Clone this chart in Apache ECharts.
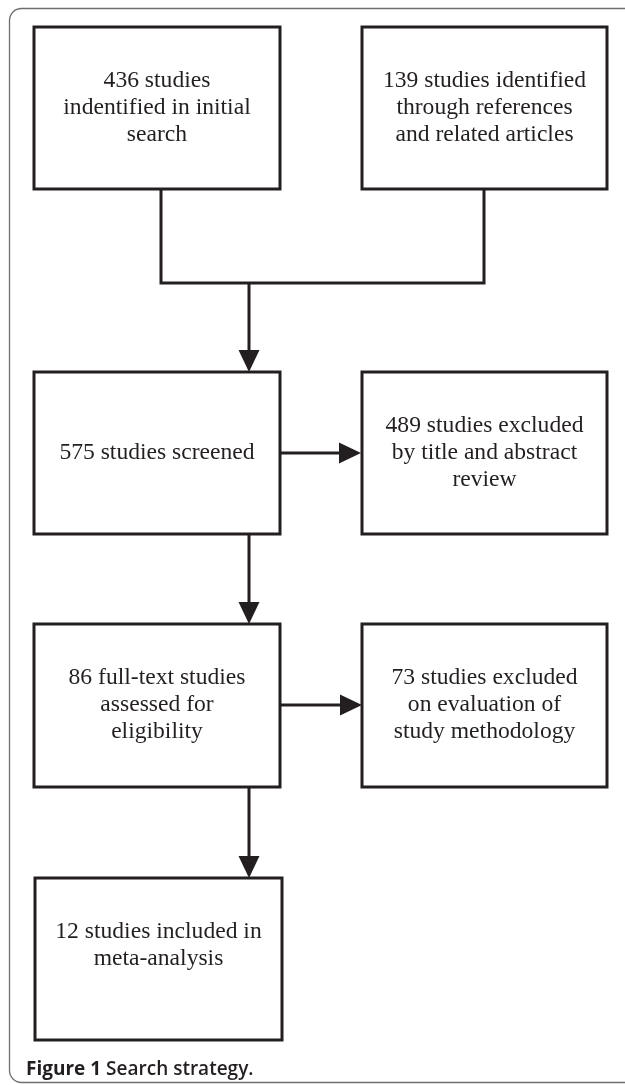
<!DOCTYPE html>
<html><head><meta charset="utf-8">
<script src="https://cdn.jsdelivr.net/npm/echarts@6/dist/echarts.min.js"></script>
<style>html,body{margin:0;padding:0;background:#fff}#c{width:625px;height:1085px}</style>
</head><body><div id="c"></div>
<script>
// ---- content ----
const labels = [
  '436 studies\nindentified in initial\nsearch',
  '139 studies identified\nthrough references\nand related articles',
  '575 studies screened',
  '489 studies excluded\nby title and abstract\nreview',
  '86 full-text studies\nassessed for\neligibility',
  '73 studies excluded\non evaluation of\nstudy methodology',
  '12 studies included in\nmeta-analysis'
];
const captionBold = 'Figure 1';
const captionText = 'Search strategy.';

// ---- layout (page units on hidden axes) ----
// [x0, y0, x1, y1, textCenterY]
const nodeLayout = [
  [34, 27, 280, 189, 107.5],
  [362, 27, 607, 189, 107.5],
  [34, 372, 280, 534, 453],
  [362, 372, 607, 534, 453],
  [34, 624, 280, 787, 705],
  [362, 624, 607, 787, 705],
  [35, 878, 282, 1040, 945]
];
// [points, hasArrow]
const edgeLayout = [
  [[[161, 189], [161, 283], [484, 283], [484, 189]], false],
  [[[249, 283], [249, 372]], true],
  [[[280, 453], [361, 453]], true],
  [[[249, 534], [249, 624]], true],
  [[[280, 705], [362, 705]], true],
  [[[249, 787], [249, 878]], true]
];

const INK = '#231f20';

function renderNode(params, api) {
  const i = api.value(0);
  const L = nodeLayout[i];
  const p0 = api.coord([L[0], L[1]]);
  const p1 = api.coord([L[2], L[3]]);
  const ty = api.coord([0, L[4]])[1];
  return {
    type: 'group',
    children: [
      { type: 'rect', shape: { x: p0[0], y: p0[1], width: p1[0] - p0[0], height: p1[1] - p0[1] },
        style: { fill: '#fff', stroke: INK, lineWidth: 3 } },
      { type: 'text', x: (p0[0] + p1[0]) / 2, y: ty,
        style: { text: labels[i], align: 'center', verticalAlign: 'middle',
          fontFamily: '"Liberation Serif", "Times New Roman", serif', fontSize: 23.6,
          lineHeight: 27, fill: INK } }
    ]
  };
}

function renderEdge(params, api) {
  const e = edgeLayout[api.value(0)];
  const pts = e[0].map(p => api.coord(p));
  const children = [];
  const linePts = pts.slice();
  if (e[1]) {
    const n = pts.length, a = pts[n - 2], b = pts[n - 1];
    const dx = b[0] - a[0], dy = b[1] - a[1], len = Math.hypot(dx, dy);
    const ux = dx / len, uy = dy / len, hl = 22, hw = 10.5;
    const base = [b[0] - ux * hl, b[1] - uy * hl];
    linePts[n - 1] = [base[0] + ux * 2, base[1] + uy * 2];
    children.push({ type: 'polygon',
      shape: { points: [b, [base[0] - uy * hw, base[1] + ux * hw], [base[0] + uy * hw, base[1] - ux * hw]] },
      style: { fill: INK } });
  }
  children.unshift({ type: 'polyline', shape: { points: linePts },
    style: { stroke: INK, lineWidth: 3, fill: null, lineJoin: 'miter' } });
  return { type: 'group', children };
}

const chart = echarts.init(document.getElementById('c'), null, { renderer: 'canvas' });
chart.setOption({
  animation: false,
  backgroundColor: '#fff',
  grid: { left: 0, right: 0, top: 0, bottom: 0 },
  xAxis: { type: 'value', min: 0, max: 625, show: false },
  yAxis: { type: 'value', min: 0, max: 1085, inverse: true, show: false },
  title: {
    left: 21, top: 1055,
    text: '{b|' + captionBold + '} {n|' + captionText + '}',
    textStyle: {
      rich: {
        b: { fontFamily: '"Open Sans", "Liberation Sans", sans-serif', fontWeight: 'bold', fontSize: 19, color: INK },
        n: { fontFamily: '"Open Sans", "Liberation Sans", sans-serif', fontWeight: 600, fontSize: 19, color: INK }
      }
    }
  },
  graphic: [{
    type: 'rect', z: -10, silent: true,
    shape: { x: 9.5, y: 8.5, width: 700, height: 1074, r: 12 },
    style: { fill: 'none', stroke: '#6d6e70', lineWidth: 1.3 }
  }],
  series: [
    { type: 'custom', coordinateSystem: 'cartesian2d', renderItem: renderEdge,
      data: edgeLayout.map((_, i) => [i]), z: 2, silent: true },
    { type: 'custom', coordinateSystem: 'cartesian2d', renderItem: renderNode,
      data: nodeLayout.map((_, i) => [i]), z: 3, silent: true }
  ]
});
</script>
</body></html>
